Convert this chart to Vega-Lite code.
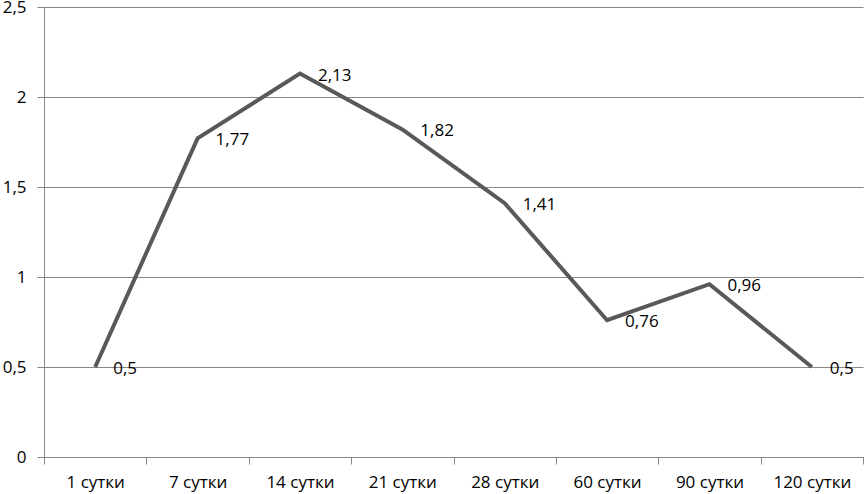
{
  "$schema": "https://vega.github.io/schema/vega-lite/v6.json",
  "width": 819,
  "height": 450,
  "autosize": {"type": "none"},
  "padding": {"left": 44, "top": 7, "right": 1, "bottom": 37},
  "background": "white",
  "config": {
    "view": {"stroke": null},
    "locale": {"number": {"decimal": ",", "thousands": " ", "grouping": [3], "currency": ["", ""]}},
    "font": "Open Sans"
  },
  "data": {
    "values": [
      {"day": "1 сутки", "value": 0.5},
      {"day": "7 сутки", "value": 1.77},
      {"day": "14 сутки", "value": 2.13},
      {"day": "21 сутки", "value": 1.82},
      {"day": "28 сутки", "value": 1.41},
      {"day": "60 сутки", "value": 0.76},
      {"day": "90 сутки", "value": 0.96},
      {"day": "120 сутки", "value": 0.5}
    ]
  },
  "encoding": {
    "x": {
      "field": "day", "type": "ordinal", "sort": null,
      "scale": {"type": "band", "paddingInner": 0, "paddingOuter": 0},
      "axis": {
        "title": null, "labelAngle": 0, "tickBand": "extent", "grid": false,
        "domainColor": "#878787", "tickColor": "#878787", "tickSize": 7,
        "labelFontSize": 17, "labelColor": "#000000", "labelPadding": 10,
        "labelFont": "Open Sans"
      }
    },
    "y": {
      "field": "value", "type": "quantitative",
      "scale": {"domain": [0, 2.5], "nice": false},
      "axis": {
        "title": null, "values": [0, 0.5, 1, 1.5, 2, 2.5], "format": "~g",
        "gridColor": "#878787", "gridWidth": 1, "domainColor": "#878787",
        "tickColor": "#878787", "tickSize": 7, "labelFontSize": 17,
        "labelColor": "#000000", "labelPadding": 11, "labelFont": "Open Sans"
      }
    }
  },
  "layer": [
    {"mark": {"type": "line", "color": "#595959", "strokeWidth": 4, "strokeJoin": "miter"}},
    {
      "mark": {"type": "text", "align": "left", "baseline": "middle", "dx": 18, "dy": 2, "fontSize": 17, "color": "#000000"},
      "encoding": {"text": {"field": "value", "type": "quantitative", "format": "~g"}}
    }
  ]
}
